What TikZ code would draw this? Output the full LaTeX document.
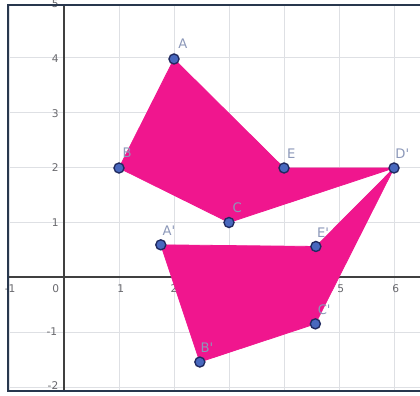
\documentclass[tikz,border=0pt]{standalone}
\usepackage{fontspec}
\setmainfont{DejaVu Sans}
\usetikzlibrary{calc}
\definecolor{shapepink}{RGB}{240,22,142}
\definecolor{dotblue}{RGB}{72,104,190}
\definecolor{dotedge}{RGB}{32,42,96}
\definecolor{lblcol}{RGB}{140,152,185}
\definecolor{gridcol}{RGB}{222,224,228}
\definecolor{framecol}{RGB}{40,55,78}
\definecolor{tickcol}{RGB}{105,105,110}
\newcommand{\pr}{\textquotesingle}
\tikzset{
  pt/.style={circle,fill=dotblue,draw=dotedge,line width=0.7pt,inner sep=0pt,minimum size=5.2pt},
  ptlabel/.style={text=lblcol,font=\fontsize{6.8}{8}\selectfont,inner sep=0pt},
  ticklbl/.style={text=tickcol,font=\fontsize{5.5}{6}\selectfont,inner sep=0pt},
  shapefill/.style={fill=shapepink,draw=shapepink,line width=0.4pt,line join=round}
}
\begin{document}
\begin{tikzpicture}[x=1cm,y=0.9909cm]
\useasboundingbox (-1.1636,-2.1835) rectangle (6.4727,5.0826);
\fill[white] (-1.1636,-2.1835) rectangle (6.4727,5.0826);
% grid
\begin{scope}
\clip (-1.018,-2.092) rectangle (6.4727,4.991);
\draw[gridcol,line width=0.5pt] (-1.2,-2.2) grid (6.6,5.1);
\end{scope}
% axes
\draw[black!75,line width=0.7pt] (-1.018,0) -- (6.4727,0);
\draw[black!75,line width=0.7pt] (0,-2.092) -- (0,4.991);
% tick labels
\node[ticklbl] (xm1) at (-0.98,-0.22) {-1};
\node[ticklbl] (x0) at (-0.15,-0.22) {0};
\node[ticklbl] (x1) at (1.03,-0.22) {1};
\node[ticklbl] (x2) at (2.0,-0.22) {2};
\node[ticklbl] (x3) at (3.0,-0.22) {3};
\node[ticklbl] (x4) at (4.0,-0.22) {4};
\node[ticklbl] (x5) at (5.03,-0.22) {5};
\node[ticklbl] (x6) at (6.03,-0.22) {6};
\node[ticklbl] (y5) at (-0.16,5.02) {5};
\node[ticklbl] (y4) at (-0.16,4.0) {4};
\node[ticklbl] (y3) at (-0.16,3.0) {3};
\node[ticklbl] (y2) at (-0.16,2.0) {2};
\node[ticklbl] (y1) at (-0.16,1.0) {1};
\node[ticklbl] (ym1) at (-0.22,-1.0) {-1};
\node[ticklbl] (ym2) at (-0.2,-2.0) {-2};
% points
\coordinate (A) at (2,4);
\coordinate (B) at (1,2);
\coordinate (C) at (3,1);
\coordinate (E) at (4,2);
\coordinate (Dp) at (6,2);
\coordinate (Ap) at (1.76,0.59);
\coordinate (Ep) at (4.58,0.56);
\coordinate (Cp) at (4.57,-0.86);
\coordinate (Bp) at (2.47,-1.56);
% shapes
\filldraw[shapefill] (A) -- (E) -- (Dp) -- (C) -- (B) -- cycle;
\filldraw[shapefill] (Ap) -- (Ep) -- (Dp) -- (Cp) -- (Bp) -- cycle;
% labels
\node[ptlabel] (lA) at ($(A)+(0.16,0.28)$) {A};
\node[ptlabel] (lB) at ($(B)+(0.15,0.28)$) {B};
\node[ptlabel] (lC) at ($(C)+(0.15,0.28)$) {C};
\node[ptlabel] (lE) at ($(E)+(0.13,0.26)$) {E};
\node[ptlabel] (lDp) at ($(Dp)+(0.15,0.26)$) {D\pr};
\node[ptlabel] (lAp) at ($(Ap)+(0.15,0.26)$) {A\pr};
\node[ptlabel] (lEp) at ($(Ep)+(0.13,0.26)$) {E\pr};
\node[ptlabel] (lCp) at ($(Cp)+(0.16,0.26)$) {C\pr};
\node[ptlabel] (lBp) at ($(Bp)+(0.13,0.26)$) {B\pr};
% dots
\foreach \p in {A,B,C,E,Dp,Ap,Ep,Cp,Bp} \node[pt] (d\p) at (\p) {};
% frame
\draw[framecol,line width=1.3pt] (6.6,4.991) -- (-1.018,4.991) -- (-1.018,-2.092) -- (6.6,-2.092);
\end{tikzpicture}
\end{document}
